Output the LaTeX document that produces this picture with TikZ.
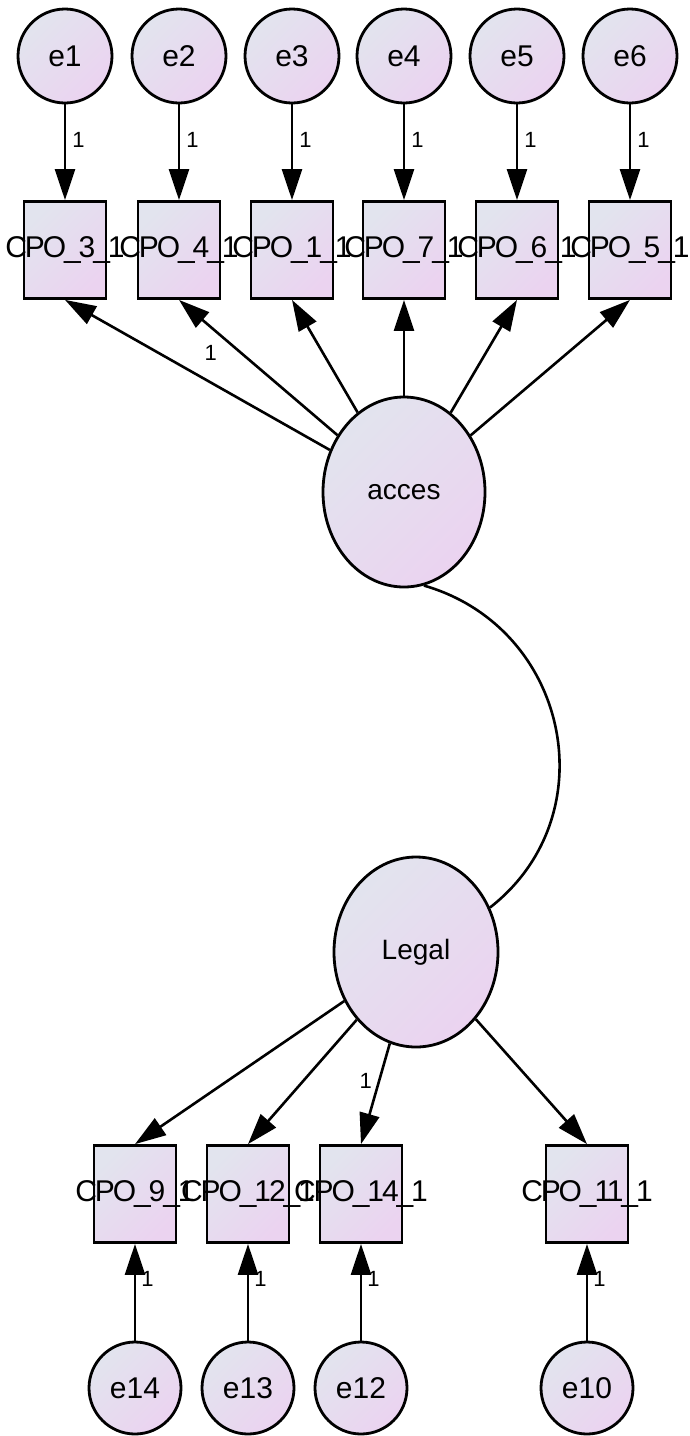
\documentclass[tikz,border=0pt]{standalone}
\usepackage{fontspec}
\setmainfont{Liberation Sans}
\newfontfamily\boxfont[LetterSpace=-7]{Liberation Sans}
\usetikzlibrary{arrows.meta,shapes.geometric}
\definecolor{gA}{HTML}{E2E4EE}
\definecolor{gB}{HTML}{EBD3F0}
\newcommand{\zt}[1]{\makebox[0pt][c]{#1}}
\begin{document}
\begin{tikzpicture}[x=1pt,y=1pt,
 fillg/.style={top color=gA, bottom color=gB, shading angle=45},
 err/.style={circle, draw, line width=2.8pt, fillg, minimum size=94pt, inner sep=0pt, font=\fontsize{30}{34}\selectfont},
 obs/.style={rectangle, draw, line width=2.8pt, fillg, minimum width=82pt, minimum height=97pt, inner sep=0pt, font=\boxfont\fontsize{30}{34}\selectfont},
 lat/.style={ellipse, draw, line width=2.8pt, fillg, minimum width=162pt, minimum height=190pt, inner sep=0pt, font=\fontsize{28}{32}\selectfont},
 arr/.style={line width=2.6pt, -{Triangle[length=31pt,width=20pt]}},
 one/.style={font=\fontsize{22}{24}\selectfont, inner sep=0pt},
 cov/.style={line width=2.6pt}]
\useasboundingbox (0,0) rectangle (690,-1436);

% top error circles
\node[err] (e1) at (65,-56) {e1};
\node[err] (e2) at (179,-56) {e2};
\node[err] (e3) at (292,-56) {e3};
\node[err] (e4) at (404,-56) {e4};
\node[err] (e5) at (517,-56) {e5};
\node[err] (e6) at (630,-56) {e6};

% top observed boxes
\node[obs] (b1) at (65,-250) {\zt{CPO\_3\_1}};
\node[obs] (b2) at (179,-250) {\zt{CPO\_4\_1}};
\node[obs] (b3) at (292,-250) {\zt{CPO\_1\_1}};
\node[obs] (b4) at (404,-250) {\zt{CPO\_7\_1}};
\node[obs] (b5) at (517,-250) {\zt{CPO\_6\_1}};
\node[obs] (b6) at (630,-250) {\zt{CPO\_5\_1}};

% latent
\node[lat] (acces) at (404,-492) {acces};
\node[lat, minimum width=164pt] (legal) at (416,-952) {Legal};

% bottom boxes
\node[obs] (c9) at (135,-1194) {\zt{CPO\_9\_1}};
\node[obs] (c12) at (248,-1194) {\zt{CPO\_12\_1}};
\node[obs] (c14) at (361,-1194) {\zt{CPO\_14\_1}};
\node[obs] (c11) at (587,-1194) {\zt{CPO\_11\_1}};

% bottom error circles
\node[err, minimum size=92pt] (e14) at (135,-1388) {e14};
\node[err, minimum size=92pt] (e13) at (248,-1388) {e13};
\node[err, minimum size=92pt] (e12) at (361,-1388) {e12};
\node[err, minimum size=92pt] (e10) at (587,-1388) {e10};

% error -> box (top)
\draw[arr] (e1) -- (b1) node[one, pos=0.37, right=6pt] {1};
\draw[arr] (e2) -- (b2) node[one, pos=0.37, right=6pt] {1};
\draw[arr] (e3) -- (b3) node[one, pos=0.37, right=6pt] {1};
\draw[arr] (e4) -- (b4) node[one, pos=0.37, right=6pt] {1};
\draw[arr] (e5) -- (b5) node[one, pos=0.37, right=6pt] {1};
\draw[arr] (e6) -- (b6) node[one, pos=0.37, right=6pt] {1};

% acces -> boxes
\draw[arr] (acces) -- (b1.south) node[one, pos=0.45, above=21pt] {1};
\draw[arr] (acces) -- (b2.south);
\draw[arr] (acces) -- (b3.south);
\draw[arr] (acces) -- (b4.south);
\draw[arr] (acces) -- (b5.south);
\draw[arr] (acces) -- (b6.south);

% covariance
\draw[cov] (acces.-78) to[out=-16, in=38, looseness=1.17] (legal.31);

% legal -> boxes
\draw[arr] (legal) -- (c9.north);
\draw[arr] (legal) -- (c12.north);
\draw[arr] (legal) -- (c14.north) node[one, pos=0.37, left=6pt] {1};
\draw[arr] (legal) -- (c11.north);

% error -> box (bottom)
\draw[arr] (e14) -- (c9) node[one, pos=0.64, right=5pt] {1};
\draw[arr] (e13) -- (c12) node[one, pos=0.64, right=5pt] {1};
\draw[arr] (e12) -- (c14) node[one, pos=0.64, right=5pt] {1};
\draw[arr] (e10) -- (c11) node[one, pos=0.64, right=5pt] {1};
\end{tikzpicture}
\end{document}
